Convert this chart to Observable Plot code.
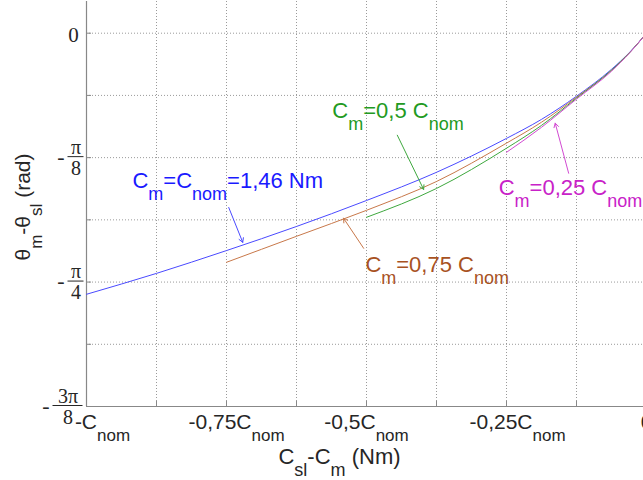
<!DOCTYPE html>
<html><head><meta charset="utf-8">
<script src="https://cdn.jsdelivr.net/npm/d3@7"></script>
<script src="https://cdn.jsdelivr.net/npm/@observablehq/plot@0.6"></script>
<style>
html,body{margin:0;padding:0;background:#fff;overflow:hidden;}
svg{background:#fff;}
</style></head><body><div id="chart"></div>
<script>
const PI = Math.PI;

// ---- series data (x in units of C_nom, y in rad) ----
const xBlue  = [-1, -0.875, -0.75, -0.625, -0.5, -0.375, -0.25, -0.1875, -0.125, -0.0625, -0.03, 0];
const yBlue  = [-0.824, -0.758, -0.686, -0.610, -0.528, -0.439, -0.332, -0.272, -0.199, -0.114, -0.060, 0];
const xBrown = [-0.75, -0.625, -0.5, -0.375, -0.25, -0.1875, -0.125, -0.0625, -0.03, 0];
const yBrown = [-0.723, -0.641, -0.559, -0.468, -0.347, -0.281, -0.202, -0.117, -0.061, 0];
const xGreen = [-0.5, -0.375, -0.25, -0.1875, -0.125, -0.0625, -0.03, 0];
const yGreen = [-0.581, -0.490, -0.363, -0.291, -0.205, -0.117, -0.061, 0];
const xMag   = [-0.25, -0.1875, -0.125, -0.0625, -0.03, 0];
const yMag   = [-0.376, -0.297, -0.208, -0.120, -0.062, 0];

// ---- series labels ("|" toggles subscript) ----
const seriesLabels = ["C|m|=C|nom|=1,46 Nm", "C|m|=0,75 C|nom", "C|m|=0,5 C|nom", "C|m|=0,25 C|nom"];
const labelX = [-0.918, -0.502, -0.561, -0.264];
const labelY = [-0.490, -0.755, -0.2685, -0.512];
// arrows (tail -> head)
const arrowX1 = [-0.746, -0.505, -0.445, -0.139];
const arrowY1 = [-0.550, -0.679, -0.322, -0.442];
const arrowX2 = [-0.721, -0.541, -0.398, -0.163];
const arrowY2 = [-0.660, -0.584, -0.493, -0.284];

// ---- ticks ----
const xGridTicks  = [-1, -0.875, -0.75, -0.625, -0.5, -0.375, -0.25, -0.125, 0];
const xLabelTicks = [-1, -0.75, -0.5, -0.25, 0];
const xLabelText  = ["-C|nom", "-0,75C|nom", "-0,5C|nom", "-0,25C|nom", "0"];
const yGridTicks  = [0, -1, -2, -3, -4, -5, -6].map(k => k * PI / 16);
const yLabelTicks = [-PI / 8, -PI / 4, -3 * PI / 8];
const yLabelNum   = ["π", "π", "3π"];
const yLabelDen   = ["8", "4", "8"];

// ---- layout / style ----
const W = 643, H = 480, ML = 86, MR = -3, MT = 1, MB = 74;
const frameW = W - ML - MR, frameH = H - MT - MB;
const lineColors  = ["#4a4aff", "#c8784a", "#3ea83e", "#d24ad2"];
const labelColors = ["#1a1aff", "#a8521f", "#229a22", "#c822c8"];
const axisText = "#262626";
const sans = "Liberation Sans, Arial, sans-serif";
const serif = "Liberation Serif, Times New Roman, serif";
const xLabelDx = [16, 10, 0, 11, 0];

const seriesX = [xBlue, xBrown, xGreen, xMag];
const seriesY = [yBlue, yBrown, yGreen, yMag];

const marks = [
  Plot.gridX(xGridTicks, {stroke: "#9a9a9a", strokeOpacity: 1, strokeDasharray: "1,2"}),
  Plot.gridY(yGridTicks, {stroke: "#9a9a9a", strokeOpacity: 1, strokeDasharray: "1,2"}),
  Plot.tickX(xGridTicks, {x: d => d, stroke: "#888", insetTop: frameH - 5}),
  Plot.tickY(yGridTicks, {y: d => d, stroke: "#888", insetRight: frameW - 5}),
  Plot.ruleX([-1], {stroke: "#888", strokeWidth: 1.2}),
  Plot.ruleY([-3 * PI / 8], {stroke: "#888", strokeWidth: 1.2})
];

seriesX.forEach((xs, s) => {
  const data = xs.map((x, i) => ({x, y: seriesY[s][i]}));
  marks.push(Plot.line(data, {x: "x", y: "y", stroke: lineColors[s], strokeWidth: 1, curve: "monotone-x"}));
});

seriesLabels.forEach((lab, s) => {
  marks.push(Plot.arrow([s], {
    x1: i => arrowX1[i], y1: i => arrowY1[i], x2: i => arrowX2[i], y2: i => arrowY2[i],
    stroke: lineColors[s], strokeWidth: 1, headLength: 7
  }));
  marks.push(Plot.text([s], {
    x: i => labelX[i], y: i => labelY[i], text: i => seriesLabels[i],
    textAnchor: "start", lineAnchor: "bottom", fill: labelColors[s],
    fontFamily: sans, fontSize: 22
  }));
});

// x tick labels
xLabelTicks.forEach((t, k) => {
  marks.push(Plot.text([k], {
    x: i => xLabelTicks[i], text: i => xLabelText[i],
    frameAnchor: "bottom", lineAnchor: "bottom", dy: 22, dx: xLabelDx[k],
    textAnchor: "middle", fill: axisText, fontFamily: sans, fontSize: 21
  }));
});

// y tick labels
marks.push(Plot.text([0], {
  y: d => d, text: () => "0", frameAnchor: "left", dx: -13, dy: 9,
  textAnchor: "middle", lineAnchor: "bottom", fill: axisText, fontFamily: serif, fontSize: 21
}));
yLabelTicks.forEach((t, k) => {
  const wide = yLabelNum[k].length > 1;
  const barLen = wide ? 30 : 16;
  const c = wide ? -18.5 : -10.5;       // fraction centre relative to the axis
  const barStart = c - barLen / 2;
  const common = {y: i => yLabelTicks[i], frameAnchor: "left", textAnchor: "middle",
                  lineAnchor: "bottom", fill: axisText, fontFamily: serif, fontSize: 20};
  marks.push(Plot.text([k], {...common, text: i => yLabelNum[i], dx: c, dy: -4}));
  marks.push(Plot.text([k], {...common, text: i => yLabelDen[i], dx: c, dy: 17}));
  marks.push(Plot.text([k], {...common, text: () => "-", dx: barStart - 7, dy: 6, fontSize: 22}));
  marks.push(Plot.ruleY([k], {y: i => yLabelTicks[i], stroke: axisText, strokeWidth: 1,
                              insetRight: frameW - barLen, dx: barStart, dy: -1}));
});

// axis titles
marks.push(Plot.text([0], {
  frameAnchor: "bottom", text: () => "C|sl|-C|m| (Nm)", dx: -27, dy: 57,
  textAnchor: "middle", lineAnchor: "bottom", fill: axisText, fontFamily: sans, fontSize: 22
}));
marks.push(Plot.text([0], {
  frameAnchor: "left", text: () => "θ|m|-θ|sl| (rad)", dx: -57, dy: 3, rotate: -90,
  textAnchor: "middle", lineAnchor: "bottom", fill: axisText, fontFamily: sans, fontSize: 21
}));

const svg = Plot.plot({
  width: W, height: H,
  marginLeft: ML, marginRight: MR, marginTop: MT, marginBottom: MB,
  x: {domain: [-1, 0], axis: null},
  y: {domain: [-3 * PI / 8, 0.1], axis: null},
  marks
});

// turn "|"-delimited segments into subscripts
svg.querySelectorAll("text").forEach(t => {
  const parts = t.textContent.split("|");
  if (parts.length < 2) return;
  const fsAttr = t.getAttribute("font-size") || t.parentNode.getAttribute("font-size") || "20";
  const fs = parseFloat(fsAttr);
  const sub = Math.round(fs * 0.8), shift = Math.round(fs * 0.55);
  t.textContent = "";
  parts.forEach((p, k) => {
    const ts = document.createElementNS("http://www.w3.org/2000/svg", "tspan");
    if (k > 0) ts.setAttribute("dy", k % 2 ? shift : -shift);
    if (k % 2) ts.setAttribute("font-size", sub);
    ts.textContent = p;
    t.appendChild(ts);
  });
});

document.getElementById("chart").appendChild(svg);
</script></body></html>
